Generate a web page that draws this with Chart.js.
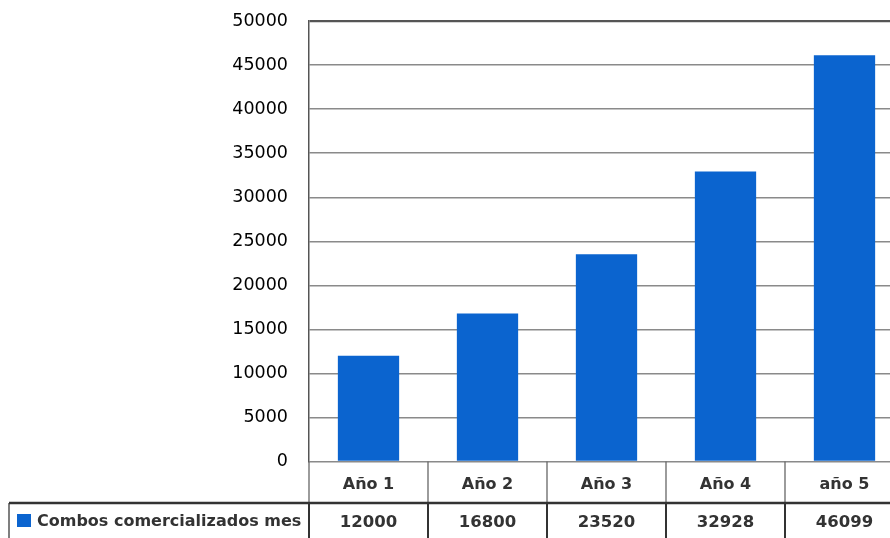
<!DOCTYPE html>
<html>
<head>
<meta charset="utf-8">
<script src="https://cdn.jsdelivr.net/npm/chart.js@4.4.1/dist/chart.umd.min.js"></script>
<style>
  html, body { margin: 0; padding: 0; background: #fff; overflow: hidden; }
  canvas { display: block; }
</style>
</head>
<body>
<canvas id="grafico" width="904" height="538"></canvas>
<script>
// datos
const categorias = ['Año 1', 'Año 2', 'Año 3', 'Año 4', 'año 5']
const combos = [12000, 16800, 23520, 32928, 46099]
const serie = 'Combos comercializados mes'
const yMax = 50000
const yPaso = 5000

const azul = '#0b64cf'
const texto = '#000'
const textoTabla = '#333'

Chart.defaults.font.family = '"DejaVu Sans", sans-serif'

// tabla de datos bajo el eje x
const tabla = {
  id: 'tabla',
  afterDraw(chart) {
    const ctx = chart.ctx
    const x = chart.scales.x
    const ancho = (x.right - x.left) / categorias.length
    const fila = x.bottom
    const pie = chart.height

    ctx.save()
    for (let i = 0; i <= categorias.length; i++) {
      const px = x.left + i * ancho
      ctx.strokeStyle = '#666'
      ctx.lineWidth = 1.3
      ctx.beginPath()
      ctx.moveTo(px, x.top)
      ctx.lineTo(px, fila)
      ctx.stroke()
      ctx.strokeStyle = '#333'
      ctx.lineWidth = 2
      ctx.beginPath()
      ctx.moveTo(px, fila)
      ctx.lineTo(px, pie)
      ctx.stroke()
    }
    ctx.strokeStyle = '#555'
    ctx.lineWidth = 1.5
    ctx.beginPath()
    ctx.moveTo(9, fila)
    ctx.lineTo(9, pie)
    ctx.stroke()

    ctx.strokeStyle = '#333'
    ctx.lineWidth = 2.5
    ctx.beginPath()
    ctx.moveTo(9, fila)
    ctx.lineTo(chart.width, fila)
    ctx.stroke()

    // leyenda
    ctx.fillStyle = chart.data.datasets[0].backgroundColor
    ctx.fillRect(17, fila + 11, 14, 13)
    ctx.fillStyle = textoTabla
    ctx.font = 'bold 16px "DejaVu Sans"'
    ctx.textBaseline = 'middle'
    ctx.textAlign = 'left'
    ctx.fillText(serie, 37, fila + 19)

    ctx.font = 'bold 16.5px "DejaVu Sans"'
    ctx.textAlign = 'center'
    combos.forEach((v, i) => {
      ctx.fillText(String(v), x.getPixelForValue(i), fila + 20)
    })
    ctx.restore()
  }
}

new Chart(document.getElementById('grafico'), {
  type: 'bar',
  data: {
    labels: categorias,
    datasets: [
      {
        label: serie,
        data: combos,
        backgroundColor: azul,
        barPercentage: 0.515,
        categoryPercentage: 1,
      },
    ],
  },
  options: {
    responsive: false,
    animation: false,
    layout: { padding: { top: 21, bottom: 35, left: 0, right: 0 } },
    plugins: {
      legend: { display: false },
      tooltip: { enabled: false },
    },
    scales: {
      x: {
        grid: { display: false, drawTicks: false },
        border: { display: false },
        ticks: { color: textoTabla, font: { size: 16, weight: 'bold' }, padding: 14 },
        afterFit: (s) => { s.height = 41.5 },
      },
      y: {
        min: 0,
        max: yMax,
        ticks: {
          stepSize: yPaso,
          color: texto,
          font: { size: 17.5 },
          padding: 21,
          callback: (v) => String(v),
        },
        grid: {
          drawTicks: false,
          color: (c) => (c.tick && c.tick.value === yMax ? '#555' : '#8a8a8a'),
          lineWidth: (c) => (c.tick && c.tick.value === yMax ? 2.2 : 1.4),
        },
        border: { color: '#555', width: 1.5 },
        afterFit: (s) => {
          s.width = 309
          s.paddingTop = 0
          s.paddingBottom = 0
        },
      },
    },
  },
  plugins: [tabla],
})
</script>
</body>
</html>
